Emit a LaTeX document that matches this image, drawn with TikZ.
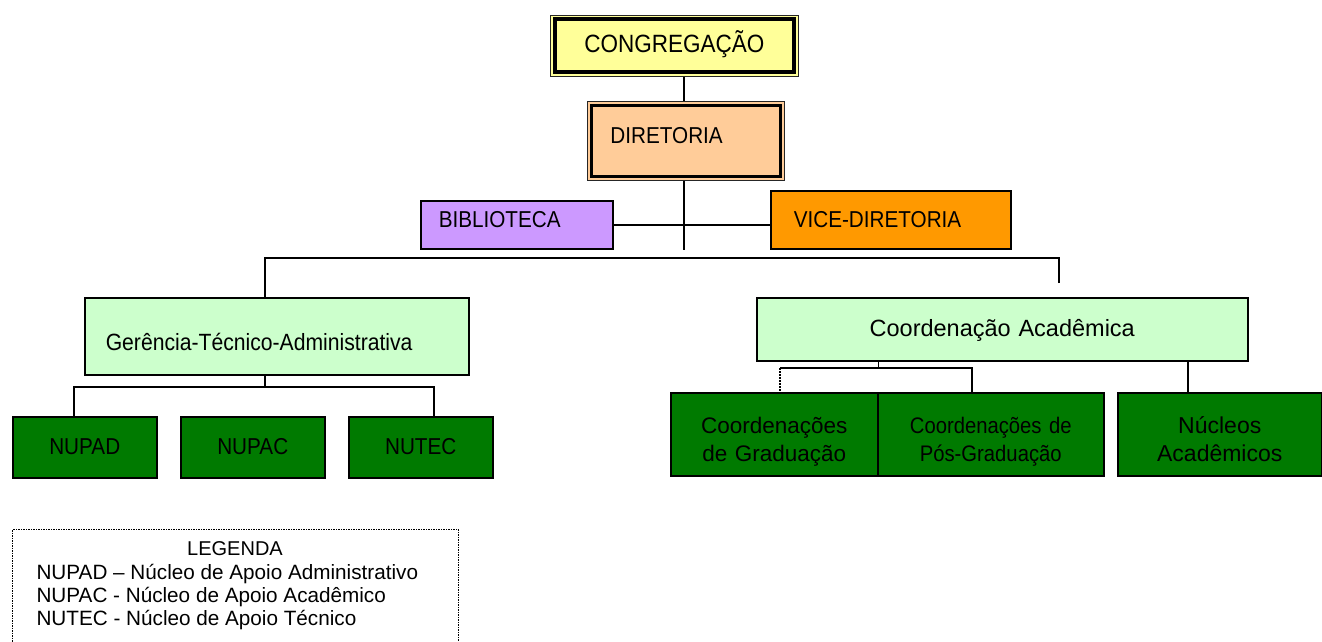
\documentclass[tikz,border=0pt]{standalone}
\usepackage{fontspec}
\setmainfont{Liberation Sans}
\newfontfamily\nf[FakeStretch=0.9]{Liberation Sans}
\newfontfamily\lf{Liberation Sans}
\definecolor{cyellow}{HTML}{FFFF99}
\definecolor{cpeach}{HTML}{FFCC99}
\definecolor{clilac}{HTML}{CC99FF}
\definecolor{corange}{HTML}{FF9900}
\definecolor{clgreen}{HTML}{CCFFCC}
\definecolor{cdgreen}{HTML}{007A00}
\begin{document}
\begin{tikzpicture}[x=1pt,y=-1pt,
  box/.style={draw=black, line width=1.5pt, inner ysep=0pt, anchor=north west},
  dbox/.style={box, fill=cdgreen, inner xsep=0pt, align=center},
  conn/.style={draw=black, line width=1.5pt},
]
\fill[white] (0,0) rectangle (1322,642);
\useasboundingbox (0,0) rectangle (1322,642);

% top
\node[box, fill=cyellow, line width=0.9pt, draw=black!85, inner xsep=0pt, text width=248pt, align=center,
      text height=37pt, text depth=24pt, font=\nf\fontsize{25}{30}\selectfont] (cong) at (550,15) {CONGREGAÇÃO};
\draw[line width=4pt] ([xshift=4.5pt,yshift=-4.5pt]cong.north west) rectangle ([xshift=-4.5pt,yshift=4.5pt]cong.south east);

\node[box, fill=cpeach, line width=0.9pt, draw=black!85, inner xsep=23pt, text width=151pt, align=left,
      text height=42pt, text depth=37pt, font=\nf\fontsize{23}{28}\selectfont] (dir) at (587,101) {DIRETORIA};
\draw[line width=2.5pt] ([xshift=4.5pt,yshift=-4.5pt]dir.north west) rectangle ([xshift=-4.5pt,yshift=4.5pt]dir.south east);

\node[box, fill=clilac, inner xsep=18pt, text width=156pt, align=left,
      text height=27pt, text depth=21pt, font=\nf\fontsize{23}{28}\selectfont] (bib) at (420,200) {BIBLIOTECA};
\node[box, fill=corange, inner xsep=23pt, text width=194pt, align=left,
      text height=37pt, text depth=21pt, font=\nf\fontsize{23}{28}\selectfont] (vice) at (770,190) {VICE-DIRETORIA};

% second level
\node[box, fill=clgreen, inner xsep=21pt, text width=342pt, align=left,
      text height=53pt, text depth=24pt, font=\nf\fontsize{23.5}{28}\selectfont] (gta) at (84,297) {Gerência-Técnico-Administrativa};
\node[box, fill=clgreen, inner xsep=0pt, text width=491pt, align=center,
      text height=39pt, text depth=24pt, font=\lf\fontsize{23.5}{28}\selectfont] (coord) at (756,297) {Coordenação Acadêmica};

% third level
\node[dbox, text width=144pt, text height=37.5pt, text depth=23.5pt, font=\nf\fontsize{23}{28}\selectfont] (nupad) at (12,416) {NUPAD};
\node[dbox, text width=144pt, text height=37.5pt, text depth=23.5pt, font=\nf\fontsize{23}{28}\selectfont] (nupac) at (180,416) {NUPAC};
\node[dbox, text width=144pt, text height=37.5pt, text depth=23.5pt, font=\nf\fontsize{23}{28}\selectfont] (nutec) at (348,416) {NUTEC};

\node[dbox, text width=207pt, text height=41pt, text depth=42pt, font=\lf\fontsize{22.5}{28}\selectfont] (grad) at (670,392) {Coordenações\\de Graduação};
\node[dbox, text width=226pt, text height=41pt, text depth=42pt, font=\nf\fontsize{22.5}{28}\selectfont] (pos) at (877,392) {Coordenações de\\Pós-Graduação};
\node[dbox, text width=204pt, text height=41pt, text depth=42pt, font=\lf\fontsize{23}{28}\selectfont] (nuc) at (1117,392) {Núcleos\\Acadêmicos};

% connectors
\coordinate (spine) at (684,0);
\draw[conn] (spine |- cong.south) -- (spine |- dir.north);
\draw[conn] (spine |- dir.south) -- (spine |- bib.south);
\draw[conn] (bib.east) -- (bib.east -| vice.west);

\coordinate (busL) at (265,258);
\coordinate (busR) at (1059,258);
\coordinate (busRend) at (1059,283);
\draw[conn] (busRend) -- (busR) -- (busL) -- (busL |- gta.north);

\coordinate (g1) at (74,387);
\coordinate (g2) at (434,387);
\draw[conn] (busL |- gta.south) -- (busL |- g1);
\draw[conn] (g1 |- nupad.north) -- (g1) -- (g2) -- (g2 |- nutec.north);

\coordinate (c1) at (780,368);
\coordinate (c2) at (972,368);
\coordinate (c3) at (1188,0);
\draw[conn] (grad.east |- coord.south) -- (grad.east |- c1);
\draw[conn] (c1) -- (c2) -- (c2 |- pos.north);
\draw[conn, dash pattern=on 2pt off 1pt] (c1) -- (c1 |- grad.north);
\draw[conn] (c3 |- coord.south) -- (c3 |- nuc.north);

% legend
\node[draw=black, dash pattern=on 1.5pt off 1pt, line width=1.2pt, anchor=north west, minimum width=446pt, minimum height=140pt, inner sep=0pt] (leg) at (12,529) {};
\node[anchor=base, font=\lf\fontsize{20}{22}\selectfont] (legT) at (235,555) {LEGENDA};
\node[anchor=base west, font=\lf\fontsize{20.7}{22}\selectfont] (leg1) at (33,579.5) {NUPAD – Núcleo de Apoio Administrativo};
\node[anchor=base west, font=\lf\fontsize{20.7}{22}\selectfont] (leg2) at (33,602.5) {NUPAC - Núcleo de Apoio Acadêmico};
\node[anchor=base west, font=\lf\fontsize{20.7}{22}\selectfont] (leg3) at (33,625.5) {NUTEC - Núcleo de Apoio Técnico};
\end{tikzpicture}
\end{document}
